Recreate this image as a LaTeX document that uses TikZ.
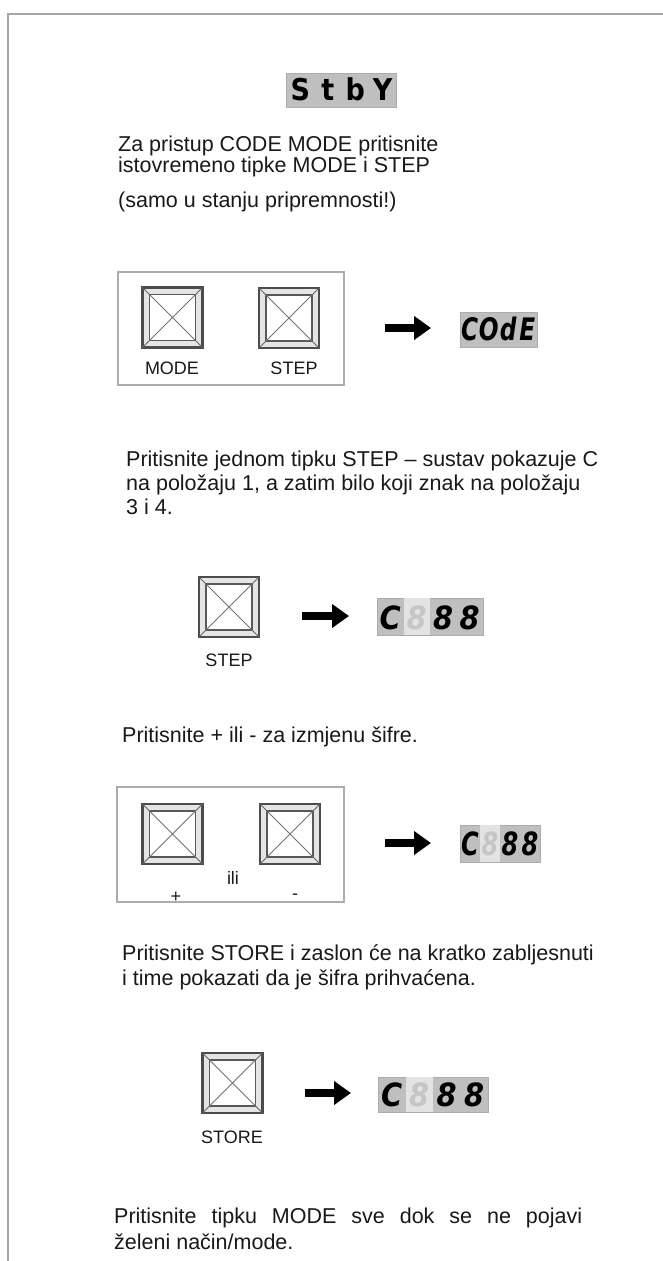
\documentclass[tikz,border=0pt]{standalone}
\usepackage{fontspec}
\usepackage{graphicx}
\setmainfont{Liberation Sans}
\newfontfamily\segfont{DejaVu Sans}
\newfontfamily\segnarrow{DejaVu Sans}[FakeStretch=0.75]
\newfontfamily\segmid{DejaVu Sans}[FakeStretch=0.9]
\usetikzlibrary{arrows.meta,calc}
\newcommand\seg[2]{\makebox[#1]{#2}}
\newcommand\segl[3]{{\fboxsep=0pt\colorbox{gray!22}{\makebox[#1]{#3\textcolor{gray!45}{#2}}}}}
\newcommand\btn[2]{%
  \node[btnouter] (#1) at (#2) {};
  \node[btninner] (#1i) at (#2) {};
  \draw[bevel] (#1.north west) -- (#1i.north west)
               (#1.north east) -- (#1i.north east)
               (#1.south west) -- (#1i.south west)
               (#1.south east) -- (#1i.south east);
  \draw[xline] (#1i.north west) -- (#1i.south east)
               (#1i.north east) -- (#1i.south west);
}
\begin{document}
\begin{tikzpicture}[x=1pt,y=-1pt,
  frameline/.style={draw=gray!70, line width=2.6pt},
  panel/.style={draw=gray!65, line width=2.4pt},
  btnouter/.style={draw=black!70, line width=2.4pt, fill=gray!20, minimum size=60pt, inner sep=0pt, outer sep=0pt},
  btninner/.style={draw=black!65, line width=1.4pt, fill=white, minimum size=46pt, inner sep=0pt, outer sep=0pt},
  bevel/.style={draw=black!60, line width=1pt},
  xline/.style={draw=black!55, line width=0.9pt},
  txt/.style={anchor=base west, inner sep=0pt, font=\fontsize{21.5}{24}\selectfont, text=black!90},
  lbl/.style={inner sep=0pt, font=\fontsize{18}{20}\selectfont, text=black!90},
  disp/.style={fill=gray!50, draw=gray!65, line width=0.8pt, inner sep=0pt, text=black},
  bigarrow/.style={line width=8pt, -{Triangle[length=17pt,width=23pt]}}
]
\useasboundingbox (0,0) rectangle (663,1261);
\fill[white] (0,0) rectangle (663,1261);

% outer frame
\draw[frameline] (8,1261) -- (8,14) -- (663,14);

% standby display
\node[disp, font=\segmid\bfseries\fontsize{30}{30}\selectfont] (stby) at (341.5,90)
  {\rule[-7pt]{0pt}{34pt}\seg{27.5pt}{S}\seg{27.5pt}{t}\seg{27.5pt}{b}\seg{27.5pt}{Y}};

% block 1 text
\node[txt] (t1) at (118,151) {Za pristup CODE MODE pritisnite};
\node[txt] (t2) at (118,172) {istovremeno tipke MODE i STEP};
\node[txt] (t3) at (118,207) {(samo u stanju pripremnosti!)};

% panel 1
\draw[panel] (118,272) rectangle (344,385);
\btn{bmode}{172.5,317.5}
\btn{bstep}{289,318}
\node[lbl] (lmode) at (172,368) {MODE};
\node[lbl] (lstep) at (294,368) {STEP};
\coordinate (a1s) at (385,328);
\coordinate (a1e) at (431,328);
\draw[bigarrow] (a1s) -- (a1e);
\node[disp, font=\segnarrow\bfseries\itshape\fontsize{31}{31}\selectfont] (dcode) at (498.5,329.5)
  {\rule[-6.5pt]{0pt}{35pt}\seg{19.25pt}{C}\seg{19.25pt}{O}\seg{19.25pt}{d}\seg{19.25pt}{E}};

% block 2 text
\node[txt] (t4) at (126,466) {Pritisnite jednom tipku STEP – sustav pokazuje C};
\node[txt] (t5) at (126,490) {na položaju 1, a zatim bilo koji znak na položaju};
\node[txt] (t6) at (126,514) {3 i 4.};

% figure 2
\btn{bstep2}{229,607}
\node[lbl] (lstep2) at (229,660) {STEP};
\coordinate (a2s) at (302,616);
\coordinate (a2e) at (349,616);
\draw[bigarrow] (a2s) -- (a2e);
\node[disp, font=\segmid\bfseries\itshape\fontsize{32}{32}\selectfont] (d2) at (430,616.5)
  {\rule[-6pt]{0pt}{37pt}\seg{26.5pt}{C}\segl{26.5pt}{8}{\rule[-6pt]{0pt}{37pt}}\seg{26.5pt}{8}\seg{26.5pt}{8}};

% block 3 text
\node[txt] (t7) at (122,742) {Pritisnite + ili - za izmjenu šifre.};

% panel 3
\draw[panel] (117,787) rectangle (344,902);
\btn{bplus}{172.5,834}
\btn{bminus}{290,834}
\node[lbl] (lili) at (233,878) {ili};
\node[lbl] (lplus) at (176,897) {+};
\node[lbl] (lminus) at (295,897) {-};
\coordinate (a3s) at (385,843);
\coordinate (a3e) at (431,843);
\draw[bigarrow] (a3s) -- (a3e);
\node[disp, font=\segnarrow\bfseries\itshape\fontsize{32}{32}\selectfont] (d3) at (500,843.5)
  {\rule[-7pt]{0pt}{37pt}\seg{20pt}{C}\segl{20pt}{8}{\rule[-7pt]{0pt}{37pt}}\seg{20pt}{8}\seg{20pt}{8}};

% block 4 text
\node[txt] (t8) at (122,960) {Pritisnite STORE i zaslon će na kratko zabljesnuti};
\node[txt] (t9) at (122,985) {i time pokazati da je šifra prihvaćena.};

% figure 4
\btn{bstore}{232.5,1083}
\node[lbl] (lstore) at (232,1137) {STORE};
\coordinate (a4s) at (305,1093);
\coordinate (a4e) at (351,1093);
\draw[bigarrow] (a4s) -- (a4e);
\node[disp, font=\segmid\bfseries\itshape\fontsize{32}{32}\selectfont] (d4) at (433,1094.5)
  {\rule[-6pt]{0pt}{35pt}\seg{27.5pt}{C}\segl{27.5pt}{8}{\rule[-6pt]{0pt}{35pt}}\seg{27.5pt}{8}\seg{27.5pt}{8}};

% last block
\node[txt] (t10) at (114,1223) {\makebox[468pt][s]{Pritisnite tipku MODE sve dok se ne pojavi}};
\node[txt] (t11) at (114,1249) {želeni način/mode.};
\end{tikzpicture}
\end{document}
